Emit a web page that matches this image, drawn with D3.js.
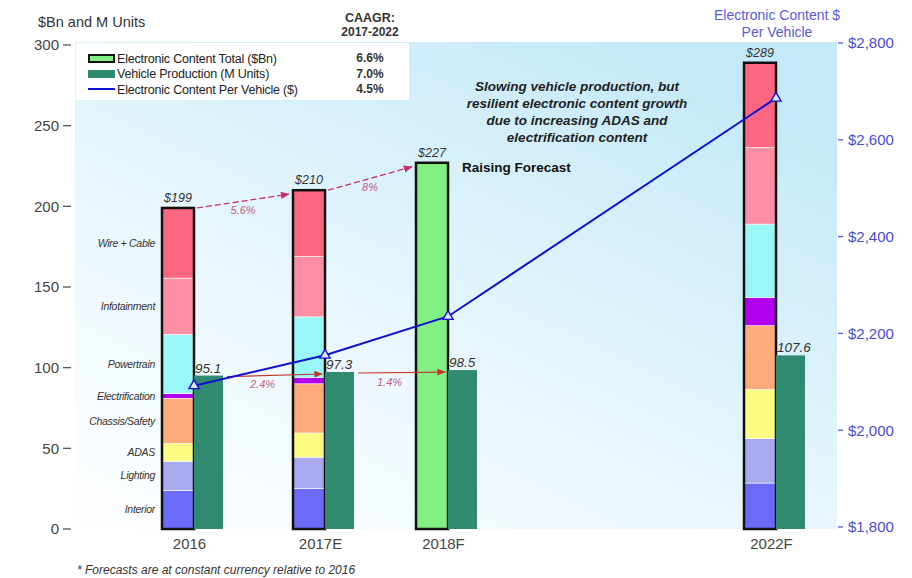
<!DOCTYPE html>
<html><head><meta charset="utf-8">
<script src="https://cdn.jsdelivr.net/npm/d3@7"></script>
<style>body{margin:0;background:#fff}svg{display:block;font-family:"Liberation Sans",Arial,sans-serif}</style>
</head><body><svg id="c" width="912" height="578"></svg>
<script>
// ---------- data ----------
const categories = ["2016", "2017E", "2018F", "2022F"];
const segmentNames = ["Interior", "Lighting", "ADAS", "Chassis/Safety", "Electrification", "Powertrain", "Infotainment", "Wire + Cable"];
const interior        = [24,   25,   0, 28.5];
const lighting        = [18,   19.5, 0, 27.5];
const adas            = [11,   15,   0, 30.5];
const chassisSafety   = [28,   30.5, 0, 39.5];
const electrification = [3,    4,    0, 17.5];
const powertrain      = [36.5, 37.5, 0, 45.5];
const infotainment    = [35,   37.5, 0, 47.5];
const wireCable       = [43.5, 41,   0, 52.5];
const totals = [199, 210, 227, 289];
const totalLabels = ["$199", "$210", "$227", "$289"];
const vehicleProduction = [95.1, 97.3, 98.5, 107.6];
const contentPerVehicle = [2092, 2155, 2235, 2686];
const totalGrowth = ["5.6%", "8%"];
const vehicleGrowth = ["2.4%", "1.4%"];
const leftTicks = [0, 50, 100, 150, 200, 250, 300];
const rightTicks = [1800, 2000, 2200, 2400, 2600, 2800];
const legendItems = ["Electronic Content Total ($Bn)", "Vehicle Production (M Units)", "Electronic Content Per Vehicle ($)"];
const legendCagr = ["6.6%", "7.0%", "4.5%"];

// ---------- styles ----------
const segColors = ["#6b6bf7", "#a9a9ef", "#fdfb82", "#fdab78", "#b100ee", "#9af7f7", "#fd8ea4", "#fc6681"];
const series = [interior, lighting, adas, chassisSafety, electrification, powertrain, infotainment, wireCable];

const svg = d3.select("#c");
const defs = svg.append("defs");
const grad = defs.append("linearGradient").attr("id", "bg").attr("x1", 0).attr("y1", 1).attr("x2", 0.75).attr("y2", 0);
grad.append("stop").attr("offset", "0").attr("stop-color", "#ffffff");
grad.append("stop").attr("offset", "0.45").attr("stop-color", "#e9f7fd");
grad.append("stop").attr("offset", "1").attr("stop-color", "#c4e9f8");
function marker(id, color) {
  defs.append("marker").attr("id", id).attr("viewBox", "0 0 10 10").attr("refX", 9).attr("refY", 5)
    .attr("markerWidth", 7).attr("markerHeight", 7).attr("orient", "auto-start-reverse")
    .append("path").attr("d", "M0,1 L10,5 L0,9 z").attr("fill", color);
}
marker("ah1", "#c8306e");
marker("ah2", "#c0392b");

const plot = {left: 75, right: 837, top: 42, bottom: 529};
const barW = 32, vehW = 29;
const y = d3.scaleLinear().domain([0, 300]).range([529, 45]);
const yR = d3.scaleLinear().domain([1800, 2800]).range([527, 43]);
const x = d3.scaleLinear().domain([0, 1, 2, 3]).range([162, 293, 416, 744]);

svg.append("rect").attr("x", plot.left).attr("y", plot.top).attr("width", plot.right - plot.left)
  .attr("height", plot.bottom - plot.top).attr("fill", "url(#bg)");

// legend box
svg.append("rect").attr("x", 76).attr("y", 43).attr("width", 333).attr("height", 57).attr("fill", "#fff");

// left axis
const la = svg.append("g");
leftTicks.forEach(t => {
  la.append("text").attr("x", 59).attr("y", y(t)).attr("dy", "0.36em").attr("text-anchor", "end")
    .attr("font-size", 15).attr("fill", "#444").text(t);
  la.append("line").attr("x1", 63).attr("x2", 71).attr("y1", y(t)).attr("y2", y(t)).attr("stroke", "#555").attr("stroke-width", 1.3);
});
svg.append("text").attr("x", 38).attr("y", 27).attr("font-size", 14.5).attr("fill", "#333").text("$Bn and M Units");

// right axis
const ra = svg.append("g");
rightTicks.forEach(t => {
  ra.append("line").attr("x1", 838).attr("x2", 843).attr("y1", yR(t)).attr("y2", yR(t)).attr("stroke", "#5a5ad6").attr("stroke-width", 1.3);
  ra.append("text").attr("x", 848).attr("y", yR(t)).attr("dy", "0.36em").attr("font-size", 15)
    .attr("fill", "#4b4bd0").text(d3.format("$,")(t));
});
svg.append("text").attr("x", 777).attr("y", 20).attr("text-anchor", "middle").attr("font-size", 14).attr("fill", "#5a5ad8").text("Electronic Content $");
svg.append("text").attr("x", 777).attr("y", 37).attr("text-anchor", "middle").attr("font-size", 14).attr("fill", "#5a5ad8").text("Per Vehicle");

// stacked bars
const stackData = categories.map((c, i) => {
  const o = {cat: c, idx: i};
  segmentNames.forEach((s, k) => o[s] = series[k][i]);
  return o;
});
const stacked = d3.stack().keys(segmentNames)(stackData);
const bars = svg.append("g");
stacked.forEach((layer, k) => {
  layer.forEach((d, i) => {
    if (d[1] - d[0] <= 0) return;
    bars.append("rect").attr("x", x(i)).attr("y", y(d[1])).attr("width", barW)
      .attr("height", y(d[0]) - y(d[1])).attr("fill", segColors[k])
      .attr("stroke", "#fff").attr("stroke-width", 0.6);
  });
});
// total bar for 2018F (no breakdown) and outlines
totals.forEach((t, i) => {
  const hasSeg = series.some(s => s[i] > 0);
  bars.append("rect").attr("x", x(i)).attr("y", y(t)).attr("width", barW).attr("height", y(0) - y(t))
    .attr("fill", hasSeg ? "none" : "#82f082").attr("stroke", "#111").attr("stroke-width", 2.5);
  svg.append("text").attr("x", x(i) + barW / 2).attr("y", y(t) - 6).attr("text-anchor", "middle")
    .attr("font-size", 12.5).attr("font-style", "italic").attr("fill", "#333").text(totalLabels[i]);
});
// vehicle production bars
vehicleProduction.forEach((v, i) => {
  bars.append("rect").attr("x", x(i) + barW).attr("y", y(v)).attr("width", vehW).attr("height", y(0) - y(v)).attr("fill", "#2f8a70");
  svg.append("text").attr("x", x(i) + barW + 1).attr("y", y(v) - 3).attr("font-size", 13.5).attr("font-style", "italic")
    .attr("fill", "#333").text(v);
});

// segment labels (from 2016 segments)
stacked.forEach((layer, k) => {
  const d = layer[0];
  svg.append("text").attr("x", 155).attr("y", (y(d[0]) + y(d[1])) / 2).attr("dy", "0.35em")
    .attr("text-anchor", "end").attr("font-size", 10.5).attr("font-style", "italic").attr("fill", "#333")
    .attr("letter-spacing", "-0.3").text(segmentNames[k]);
});

// growth arrows (totals) - dashed
totalGrowth.forEach((g, i) => {
  const x1 = x(i) + barW + 3, y1 = y(totals[i]), x2 = x(i + 1) - 4, y2 = y(totals[i + 1]) + 4;
  svg.append("line").attr("x1", x1).attr("y1", y1).attr("x2", x2).attr("y2", y2)
    .attr("stroke", "#c8306e").attr("stroke-width", 1.3).attr("stroke-dasharray", "6,3").attr("marker-end", "url(#ah1)");
  svg.append("text").attr("x", (x1 + x2) / 2).attr("y", (y1 + y2) / 2 + 13).attr("text-anchor", "middle")
    .attr("font-size", 11).attr("font-style", "italic").attr("fill", "#c05a86").text(g);
});
// growth arrows (vehicles) - solid
vehicleGrowth.forEach((g, i) => {
  const x1 = x(i) + barW + vehW + 4, y1 = y(vehicleProduction[i]) + 1, x2 = x(i + 1) + barW - 3, y2 = y(vehicleProduction[i + 1]) + 2;
  svg.append("line").attr("x1", x1).attr("y1", y1).attr("x2", x2).attr("y2", y2)
    .attr("stroke", "#c0392b").attr("stroke-width", 1.2).attr("marker-end", "url(#ah2)");
  svg.append("text").attr("x", (x1 + x2) / 2 - 12).attr("y", (y1 + y2) / 2 + 13).attr("text-anchor", "middle")
    .attr("font-size", 11).attr("font-style", "italic").attr("fill", "#c05a86").text(g);
});

// content per vehicle line
const line = d3.line().x((d, i) => x(i) + barW).y(d => yR(d));
svg.append("path").datum(contentPerVehicle).attr("d", line).attr("fill", "none").attr("stroke", "#1010d0").attr("stroke-width", 2);
const tri = d3.symbol().type(d3.symbolTriangle).size(45);
contentPerVehicle.forEach((v, i) => {
  svg.append("path").attr("d", tri).attr("transform", `translate(${x(i) + barW},${yR(v)})`)
    .attr("fill", "#dde6ff").attr("stroke", "#1010d0").attr("stroke-width", 1.4);
});

// category labels
categories.forEach((c, i) => {
  svg.append("text").attr("x", x(i) + (barW + vehW) / 2 - 3).attr("y", 549).attr("text-anchor", "middle")
    .attr("font-size", 15).attr("fill", "#444").text(c);
});

// legend
const lg = svg.append("g");
lg.append("rect").attr("x", 89).attr("y", 55).attr("width", 25).attr("height", 7).attr("fill", "#82f082").attr("stroke", "#111").attr("stroke-width", 2);
lg.append("rect").attr("x", 88).attr("y", 70).attr("width", 27).attr("height", 8).attr("fill", "#2f8a70");
lg.append("line").attr("x1", 88).attr("x2", 115).attr("y1", 89).attr("y2", 89).attr("stroke", "#1010d0").attr("stroke-width", 2);
legendItems.forEach((t, k) => {
  lg.append("text").attr("x", 117).attr("y", 58 + k * 15.5).attr("dy", "0.36em").attr("font-size", 12.5).attr("fill", "#222")
    .attr("letter-spacing", "-0.2").text(t);
  lg.append("text").attr("x", 370).attr("y", 58 + k * 15.5).attr("dy", "0.36em").attr("text-anchor", "middle")
    .attr("font-size", 12).attr("font-weight", "bold").attr("fill", "#333").text(legendCagr[k]);
});
svg.append("text").attr("x", 370).attr("y", 22).attr("text-anchor", "middle").attr("font-size", 12.5).attr("font-weight", "bold").attr("fill", "#333").text("CAAGR:");
svg.append("text").attr("x", 370).attr("y", 36).attr("text-anchor", "middle").attr("font-size", 12).attr("font-weight", "bold").attr("fill", "#333").text("2017-2022");

// annotations
const note = ["Slowing vehicle production, but", "resilient electronic content growth", "due to increasing ADAS and", "electrification content"];
note.forEach((t, k) => {
  svg.append("text").attr("x", 577).attr("y", 91 + k * 17).attr("text-anchor", "middle").attr("font-size", 13.5)
    .attr("font-weight", "bold").attr("font-style", "italic").attr("fill", "#222").text(t);
});
svg.append("text").attr("x", 462).attr("y", 172).attr("font-size", 13.5).attr("font-weight", "bold").attr("fill", "#111").text("Raising Forecast");
svg.append("text").attr("x", 77).attr("y", 574).attr("font-size", 12).attr("font-style", "italic").attr("fill", "#333")
  .text("* Forecasts are at constant currency relative to 2016");
</script></body></html>
